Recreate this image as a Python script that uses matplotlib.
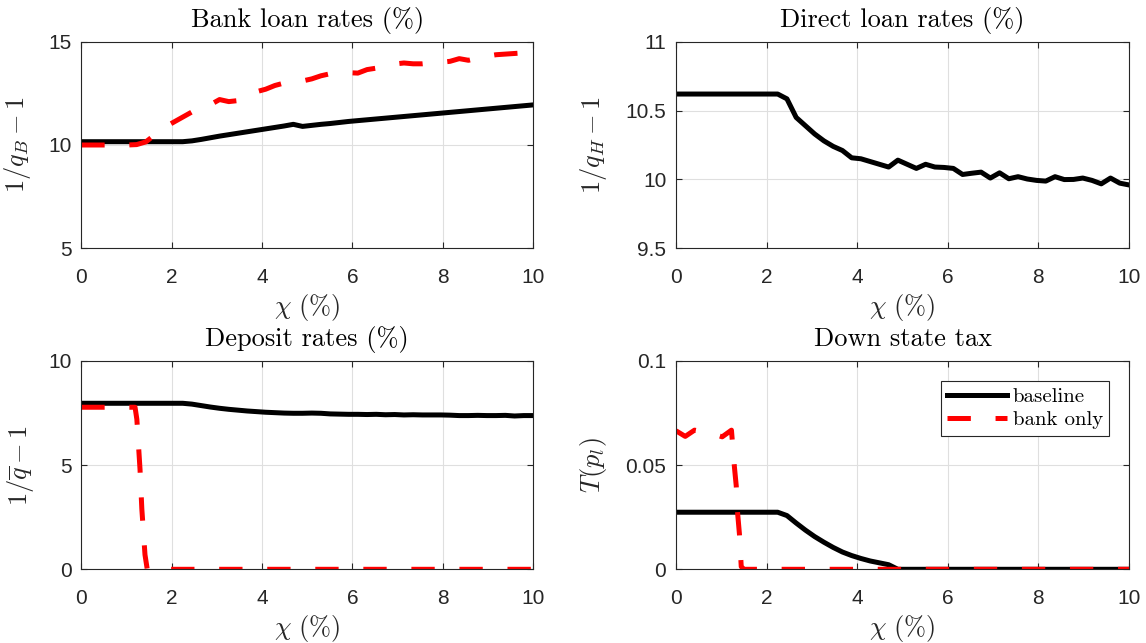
import matplotlib
matplotlib.use("Agg")
import matplotlib.pyplot as plt
import numpy as np
from matplotlib.ticker import FormatStrFormatter

plt.rcParams["mathtext.fontset"] = "cm"
plt.rcParams["font.family"] = ["Liberation Sans", "DejaVu Sans"]

# ---- grid of chi values (%) ----
chi = np.linspace(0, 10, 50)

# ---- bank loan rates 1/q_B - 1 ----
bank_loan_baseline = [10.16] * 12 + [
    10.2, 10.27, 10.35, 10.43, 10.5, 10.57, 10.64, 10.71, 10.78, 10.85,
    10.92, 11.0, 10.9, 10.95, 11.0, 11.04, 11.09, 11.14, 11.18, 11.22,
    11.26, 11.30, 11.34, 11.38, 11.42, 11.46, 11.5, 11.54, 11.58, 11.62,
    11.66, 11.7, 11.74, 11.78, 11.82, 11.86, 11.9, 11.94]
bank_loan_bankonly = [10.0] * 6 + [
    10.02, 10.15, 10.5, 10.85, 11.1, 11.35, 11.6, 11.8, 11.95, 12.2,
    12.1, 12.15, 12.4, 12.58, 12.7, 12.88, 13.0, 13.05, 13.1, 13.2,
    13.35, 13.45, 13.47, 13.5, 13.48, 13.65, 13.72, 13.8, 13.92, 13.97,
    13.93, 13.93, 13.97, 14.0, 14.05, 14.18, 14.1, 14.2, 14.3, 14.37,
    14.4, 14.43, 14.46, 14.48]

# ---- direct loan rates 1/q_H - 1 ----
direct_loan_baseline = [10.62] * 12 + [
    10.585, 10.45, 10.39, 10.33, 10.28, 10.24, 10.21, 10.157, 10.15, 10.13,
    10.11, 10.09, 10.14, 10.11, 10.08, 10.11, 10.09, 10.087, 10.08, 10.036,
    10.045, 10.053, 10.01, 10.048, 10.005, 10.02, 10.003, 9.993, 9.988, 10.02,
    9.999, 10.0, 10.01, 9.993, 9.968, 10.01, 9.973, 9.96]

# ---- deposit rates 1/qbar - 1 ----
deposit_baseline = [7.97] * 12 + [
    7.93, 7.86, 7.79, 7.73, 7.68, 7.64, 7.6, 7.57, 7.54, 7.52,
    7.5, 7.49, 7.49, 7.5, 7.49, 7.46, 7.45, 7.44, 7.44, 7.43,
    7.44, 7.42, 7.43, 7.41, 7.42, 7.41, 7.41, 7.41, 7.4, 7.38,
    7.38, 7.39, 7.38, 7.38, 7.39, 7.36, 7.38, 7.38]
chi_deposit_bankonly = [0.0, 0.204, 0.408, 0.612, 0.816, 1.02, 1.19,
                        1.23, 1.30, 1.34, 1.41, 1.46, 10.0]
deposit_bankonly = [7.78, 7.78, 7.78, 7.78, 7.78, 7.78, 7.78,
                    7.2, 4.8, 2.9, 0.7, 0.0, 0.0]

# ---- down state tax T(p_l) ----
tax_baseline = [0.0274] * 12 + [
    0.0258, 0.0222, 0.0188, 0.0157, 0.0130, 0.0105, 0.0083, 0.0066,
    0.0052, 0.0040, 0.0031, 0.0022] + [0.0] * 26
chi_tax_bankonly = [0.0, 0.204, 0.408, 0.612, 0.816, 1.02, 1.224,
                    1.29, 1.33, 1.36, 1.40, 1.44, 1.50, 10.0]
tax_bankonly = [0.0665, 0.0638, 0.0668, 0.066, 0.065, 0.0636, 0.0668,
                0.049, 0.040, 0.027, 0.017, 0.0013, 0.0, 0.0]

xticks = [0, 2, 4, 6, 8, 10]
GRAY = "#262626"
LW = 3.6
DASH = (0, (4.67, 4.94))

fig = plt.figure(figsize=(11.46, 6.43), dpi=100)
ax1 = fig.add_axes([0.07094, 0.61384, 0.39415, 0.32131])
ax2 = fig.add_axes([0.58988, 0.61384, 0.39529, 0.32131])
ax3 = fig.add_axes([0.07094, 0.11462, 0.39415, 0.32395])
ax4 = fig.add_axes([0.58988, 0.11462, 0.39529, 0.32395])


def style(ax, ylim, yticks, title, ylabel, ylab_x, xlab_y):
    ax.set_xlim(0, 10)
    ax.set_ylim(*ylim)
    ax.set_xticks(xticks)
    ax.set_yticks(yticks)
    ax.yaxis.set_major_formatter(FormatStrFormatter("%g"))
    ax.xaxis.set_major_formatter(FormatStrFormatter("%g"))
    ax.tick_params(direction="in", length=4, width=0.8, top=True, right=True,
                   labelsize=15, colors=GRAY)
    ax.tick_params(axis="x", pad=14)
    ax.tick_params(axis="y", pad=7)
    ax.grid(True, color="#dfdfdf", lw=0.8)
    ax.set_axisbelow(True)
    for s in ax.spines.values():
        s.set_color(GRAY)
        s.set_linewidth(0.8)
    ax.set_title(title, fontfamily="cmr10", fontsize=19, pad=10.6, color="black")
    ax.set_ylabel(ylabel, fontsize=19, color=GRAY)
    ax.yaxis.set_label_coords(ylab_x, 0.5)
    ax.set_xlabel(r"$\chi\ (\%)$", fontsize=19, color=GRAY)
    ax.xaxis.set_label_coords(0.5, xlab_y)


# Bank loan rates
ax1.plot(chi, bank_loan_baseline, color="black", lw=LW)
ax1.plot(chi, bank_loan_bankonly, color="red", lw=LW, linestyle=DASH)
style(ax1, (5, 15), [5, 10, 15], "Bank loan rates (%)", r"$1/q_B-1$", -0.106, -0.210)

# Direct loan rates
ax2.plot(chi, direct_loan_baseline, color="black", lw=LW)
style(ax2, (9.5, 11), [9.5, 10, 10.5, 11], "Direct loan rates (%)", r"$1/q_H-1$", -0.149, -0.210)

# Deposit rates
ax3.plot(chi, deposit_baseline, color="black", lw=LW)
ax3.plot(chi_deposit_bankonly, deposit_bankonly, color="red", lw=LW, linestyle=DASH)
style(ax3, (0, 10), [0, 5, 10], "Deposit rates (%)", r"$1/\overline{q}-1$", -0.100, -0.208)

# Down state tax
ax4.plot(chi, tax_baseline, color="black", lw=LW, label="baseline")
ax4.plot(chi_tax_bankonly, tax_bankonly, color="red", lw=LW, linestyle=DASH, label="bank only")
style(ax4, (0, 0.1), [0, 0.05, 0.1], "Down state tax", r"$T(p_l)$", -0.149, -0.208)

leg = ax4.legend(loc="upper right", bbox_to_anchor=(0.956, 0.904), borderaxespad=0,
                 prop={"family": "cmr10", "size": 15}, handlelength=2.84,
                 handletextpad=0.29, labelspacing=0.24, borderpad=0.3,
                 fancybox=False, framealpha=1, edgecolor=GRAY)
leg.get_frame().set_linewidth(0.8)

fig.savefig("out.png", dpi=100)
